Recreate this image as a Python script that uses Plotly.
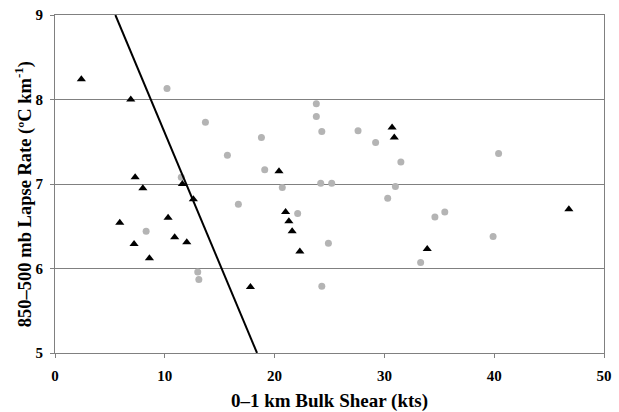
import plotly.graph_objects as go

# Gray circles
circle_x = [10.2, 13.7, 15.7, 11.5, 23.8, 23.8, 24.3, 18.8, 27.6, 29.2, 31.5, 19.1, 20.7,
            24.2, 25.2, 31.0, 40.4, 16.7, 8.3, 13.0, 13.1, 22.1, 24.9, 30.3, 34.6, 33.3,
            24.3, 35.5, 39.9]
circle_y = [8.13, 7.73, 7.34, 7.08, 7.95, 7.80, 7.62, 7.55, 7.63, 7.49, 7.26, 7.17, 6.96,
            7.01, 7.01, 6.97, 7.36, 6.76, 6.44, 5.96, 5.87, 6.65, 6.30, 6.83, 6.61, 6.07,
            5.79, 6.67, 6.38]

# Black triangles
tri_x = [2.4, 6.9, 7.3, 8.0, 11.6, 30.7, 30.9, 20.4, 12.6, 5.9, 10.3, 10.9, 12.0, 7.2,
         8.6, 17.8, 21.0, 21.3, 21.6, 22.3, 33.9, 46.8]
tri_y = [8.24, 8.00, 7.08, 6.95, 7.00, 7.67, 7.55, 7.15, 6.82, 6.54, 6.60, 6.37, 6.31, 6.29,
         6.12, 5.78, 6.67, 6.56, 6.44, 6.20, 6.23, 6.70]

# Discriminant line
line_x = [5.5, 18.4]
line_y = [9.0, 5.0]

x_ticks = [0, 10, 20, 30, 40, 50]
y_ticks = [5, 6, 7, 8, 9]

y_title = "<b>850–500 mb Lapse Rate (ºC km<sup>-1</sup>)</b>"

font_fam = "Liberation Serif"

fig = go.Figure()
fig.add_trace(go.Scatter(x=circle_x, y=circle_y, mode="markers",
                         marker=dict(symbol="circle", size=7, color="#b4b4b4"),
                         showlegend=False))
fig.add_trace(go.Scatter(x=tri_x, y=tri_y, mode="markers",
                         marker=dict(symbol="triangle-up", size=8, color="black"),
                         showlegend=False))
fig.add_trace(go.Scatter(x=line_x, y=line_y, mode="lines",
                         line=dict(color="black", width=2), showlegend=False))

fig.update_layout(
    width=619, height=412,
    margin=dict(l=55, r=15, t=15, b=59),
    plot_bgcolor="white", paper_bgcolor="white",
    font=dict(family=font_fam, color="black"),
    xaxis=dict(range=[0, 50], tickvals=x_ticks, showgrid=False, zeroline=False,
               showline=True, linecolor="#808080", linewidth=1, mirror=True,
               ticks="outside", ticklen=4, tickcolor="#808080", automargin=False,
               ticklabelstandoff=5,
               tickfont=dict(family=font_fam, size=15, color="black", weight="bold"),
               title=dict(text="<b>0–1 km Bulk Shear (kts)</b>",
                          font=dict(family=font_fam, size=19), standoff=14)),
    yaxis=dict(range=[5, 9], tickvals=y_ticks, showgrid=True, gridcolor="#808080",
               gridwidth=1, zeroline=False,
               showline=True, linecolor="#808080", linewidth=1, mirror=True,
               ticks="outside", ticklen=4, tickcolor="#808080", automargin=False,
               ticklabelstandoff=4,
               tickfont=dict(family=font_fam, size=15, color="black", weight="bold")),
    annotations=[dict(text=y_title, xref="paper", yref="paper",
                      x=-32 / 549, y=0.47, xanchor="center", yanchor="middle",
                      textangle=-90, showarrow=False,
                      font=dict(family=font_fam, size=18.5, color="black"))],
)

fig.write_html("out.html", config={"displayModeBar": False},
               post_script="document.body.style.margin='0';document.body.style.overflow='hidden';")
